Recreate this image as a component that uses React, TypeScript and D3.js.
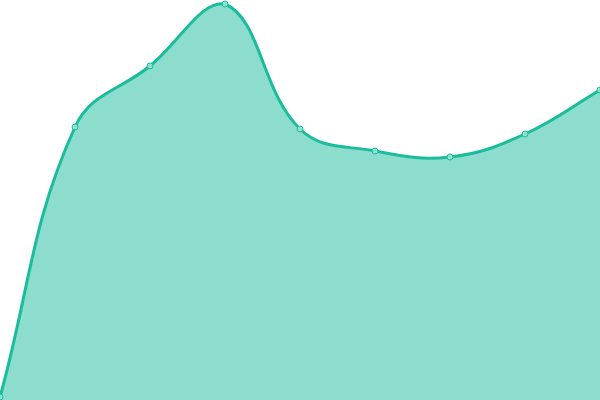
import React from "react";
import * as d3 from "d3";

const categories = ["A", "B", "C", "D", "E", "F", "G", "H", "I"];
const values = [3, 273, 334, 396, 271, 249, 243, 266, 310];

const W = 600;
const H = 400;
const TENSION = 0.4;

type P = { x: number; y: number };

function splinePath(pts: P[], closeBottom: number | null): string {
  const n = pts.length;
  const cps: { prev: P; next: P }[] = [];
  for (let i = 0; i < n; i++) {
    const prev = pts[Math.max(i - 1, 0)];
    const cur = pts[i];
    const next = pts[Math.min(i + 1, n - 1)];
    const d01 = Math.hypot(cur.x - prev.x, cur.y - prev.y);
    const d12 = Math.hypot(next.x - cur.x, next.y - cur.y);
    let s01 = d01 / (d01 + d12);
    let s12 = d12 / (d01 + d12);
    if (isNaN(s01)) s01 = 0;
    if (isNaN(s12)) s12 = 0;
    const fa = TENSION * s01;
    const fb = TENSION * s12;
    const cap = (v: number, lo: number, hi: number) => Math.max(Math.min(v, hi), lo);
    cps.push({
      prev: {
        x: cap(cur.x - fa * (next.x - prev.x), 0, W),
        y: cap(cur.y - fa * (next.y - prev.y), 0, H),
      },
      next: {
        x: cap(cur.x + fb * (next.x - prev.x), 0, W),
        y: cap(cur.y + fb * (next.y - prev.y), 0, H),
      },
    });
  }
  const p = d3.path();
  p.moveTo(pts[0].x, pts[0].y);
  for (let i = 1; i < n; i++) {
    const a = cps[i - 1].next;
    const b = cps[i].prev;
    p.bezierCurveTo(a.x, a.y, b.x, b.y, pts[i].x, pts[i].y);
  }
  if (closeBottom !== null) {
    p.lineTo(pts[n - 1].x, closeBottom);
    p.lineTo(pts[0].x, closeBottom);
    p.closePath();
  }
  return p.toString();
}

export default function App() {
  React.useEffect(() => {
    document.body.style.margin = "0";
  }, []);
  const x = d3.scalePoint<string>().domain(categories).range([0, W]);
  const y = d3.scaleLinear().domain([0, 400]).range([H, 0]);
  const pts: P[] = values.map((v, i) => ({ x: x(categories[i])!, y: y(v) }));
  return (
    <svg width={W} height={H} style={{ position: "absolute", left: 0, top: 0, display: "block" }}>
      <path d={splinePath(pts, H)} fill="#1abc9c" fillOpacity={0.5} />
      <path d={splinePath(pts, null)} fill="none" stroke="#1abc9c" strokeWidth={3} />
      {pts.map((p, i) => (
        <circle key={i} cx={p.x} cy={p.y} r={3} fill="#8ee0d0" stroke="#1abc9c" strokeWidth={1} />
      ))}
    </svg>
  );
}
